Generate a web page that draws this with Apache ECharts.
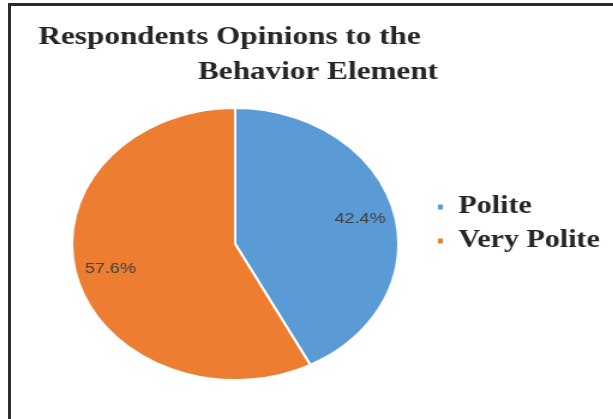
<!DOCTYPE html>
<html>
<head>
<meta charset="utf-8">
<script src="https://cdn.jsdelivr.net/npm/echarts@6/dist/echarts.min.js"></script>
<style>
  html, body { margin: 0; padding: 0; background: #fff; }
  #wrap { position: relative; width: 613px; height: 419px; overflow: hidden; }
  /* chart is laid out narrower and stretched horizontally */
  #chart { position: absolute; left: 0; top: 0; width: 511px; height: 419px;
           transform: scaleX(1.2); transform-origin: 0 0; }
  #frame { position: absolute; left: 8px; top: 3px; right: -10px; bottom: -10px;
           border-left: 3px solid #2b2b2b; border-top: 3px solid #2b2b2b;
           pointer-events: none; }
</style>
</head>
<body>
<div id="wrap">
  <div id="chart"></div>
  <div id="frame"></div>
</div>
<script>
// Survey answers: share of respondents per opinion
const categories = ['Polite', 'Very Polite'];
const shares = [42.4, 57.6];
const sliceColors = ['#5B9BD5', '#ED7D31'];
const titleLines = ['Respondents Opinions to the', 'Behavior Element'];

const pieData = categories.map((name, i) => ({
  name: name,
  value: shares[i],
  itemStyle: { color: sliceColors[i] }
}));

const chart = echarts.init(document.getElementById('chart'), null, { renderer: 'canvas' });

const titleFont = {
  fontFamily: '"Liberation Serif", "Times New Roman", serif',
  fontWeight: 'bold',
  fontSize: 26,
  lineHeight: 30,
  color: '#262626'
};

chart.setOption({
  backgroundColor: '#ffffff',
  animation: false,
  title: [
    { text: titleLines[0], left: 32, top: 22, padding: 0, textStyle: titleFont },
    { text: titleLines[1], left: 165, top: 57, padding: 0, textStyle: titleFont }
  ],
  legend: {
    orient: 'vertical',
    left: 363,
    top: 193,
    padding: 0,
    itemWidth: 6,
    itemHeight: 7,
    itemGap: 6,
    icon: 'rect',
    data: categories,
    textStyle: {
      fontFamily: '"Liberation Serif", "Times New Roman", serif',
      fontWeight: 'bold',
      fontSize: 25,
      lineHeight: 28,
      color: '#262626',
      padding: [0, 0, 0, 7]
    }
  },
  series: [
    {
      // the slices
      type: 'pie',
      center: [196, 244],
      radius: [0, 136],
      startAngle: 90,
      clockwise: true,
      silent: true,
      label: { show: false },
      labelLine: { show: false },
      itemStyle: { borderColor: '#ffffff', borderWidth: 2 },
      data: pieData
    },
    {
      // percentage labels sitting in the outer part of each slice
      type: 'pie',
      center: [196, 244],
      radius: [72, 136],
      startAngle: 90,
      clockwise: true,
      silent: true,
      itemStyle: { color: 'rgba(0,0,0,0)' },
      label: {
        show: true,
        position: 'inside',
        fontFamily: '"Liberation Sans", Arial, sans-serif',
        fontSize: 15,
        color: '#404040',
        formatter: p => p.value.toFixed(1) + '%'
      },
      labelLine: { show: false },
      data: categories.map((name, i) => ({ name: name, value: shares[i] }))
    }
  ]
});
</script>
</body>
</html>
